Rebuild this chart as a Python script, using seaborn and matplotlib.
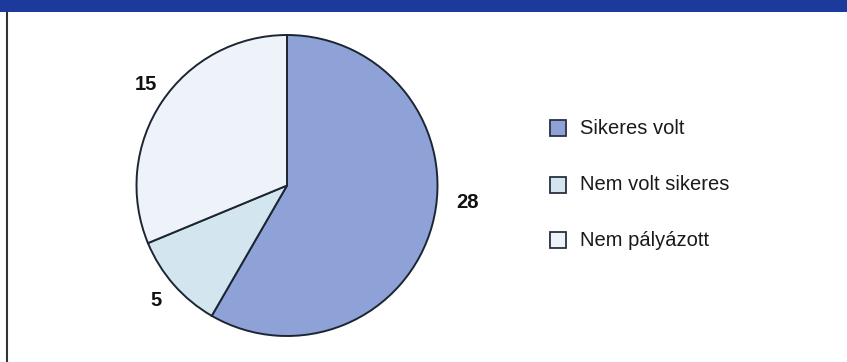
import matplotlib
matplotlib.use("Agg")
import matplotlib.pyplot as plt
import seaborn as sns
from matplotlib.patches import Rectangle

sns.set_theme(style="white")
plt.rcParams['font.family'] = ['Liberation Sans', 'DejaVu Sans']

# adatok
categories = ["Sikeres volt", "Nem volt sikeres", "Nem pályázott"]
values = [28, 5, 15]
colors = ["#8ea2d8", "#d3e6f0", "#eef3f9"]

fig = plt.figure(figsize=(8.47, 3.62), dpi=100)
fig.patch.set_facecolor("white")

# felső kék sáv és bal oldali keret
fig.add_artist(Rectangle((0, 1 - 12 / 362), 1, 12 / 362, transform=fig.transFigure,
                         facecolor="#1b3a9c", edgecolor="none"))
fig.add_artist(plt.Line2D([7 / 847, 7 / 847], [0, 1 - 12 / 362], transform=fig.transFigure,
                          color="#333333", lw=1.5))

# kördiagram
ax = fig.add_axes([135 / 847, 1 - 338 / 362, 304 / 847, 305 / 362])
wedges, _ = ax.pie(values, colors=colors, startangle=90, counterclock=False,
                   wedgeprops=dict(edgecolor="#1c2633", linewidth=1.4))
ax.set_xlim(-1.01, 1.01)
ax.set_ylim(-1.01, 1.01)
ax.set_aspect("equal")

# értékcímkék
label_pos = [(467, 203), (156, 301), (146, 85)]
for v, (px, py) in zip(values, label_pos):
    fig.text(px / 847, 1 - py / 362, str(v), ha="center", va="center",
             fontsize=14.5, fontweight="bold", color="#111111")

# jelmagyarázat
leg_y = [128, 185, 240]
for c, name, y in zip(colors, categories, leg_y):
    fig.add_artist(Rectangle((550 / 847, 1 - (y + 8) / 362), 16 / 847, 16 / 362,
                             transform=fig.transFigure, facecolor=c,
                             edgecolor="#2a3040", lw=1.3))
    fig.text(580 / 847, 1 - y / 362, name, ha="left", va="center",
             fontsize=14.5, color="#1a1a1a")

fig.savefig("out.png", dpi=100)
